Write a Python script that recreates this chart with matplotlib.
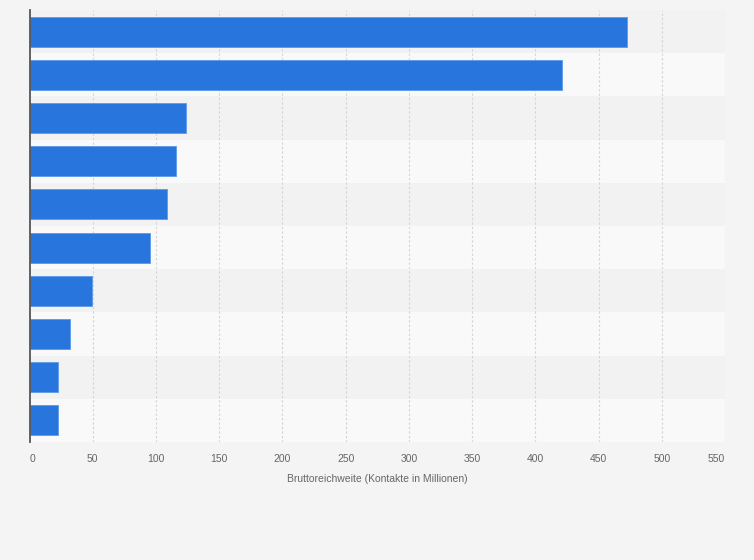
import matplotlib.pyplot as plt

# Bruttoreichweite in Millionen Kontakte, top to bottom
values = [472.5, 421, 124, 116, 109, 95.5, 49.5, 32, 22.5, 22.5]
ticks = [0, 50, 100, 150, 200, 250, 300, 350, 400, 450, 500, 550]

plt.rcParams['font.family'] = ['Liberation Sans', 'DejaVu Sans']

fig = plt.figure(figsize=(7.54, 5.6), dpi=100)
fig.patch.set_facecolor('#f4f4f4')
ax = fig.add_axes([29.5 / 754, 1 - 442 / 560, (725 - 29.5) / 754, 432 / 560])
ax.set_facecolor('#f4f4f4')

n = len(values)
pos = list(range(n))

# alternating row bands
for i in pos:
    ax.axhspan(i - 0.5, i + 0.5, color='#f2f2f2' if i % 2 == 0 else '#f9f9f9', zorder=0, lw=0)

for x in ticks[1:]:
    ax.axvline(x, color='#d4d4d4', lw=0.8, ls=(0, (2, 2)), zorder=1)

ax.barh(pos, values, height=0.69, color='#2876dd', edgecolor='#5b9be8', lw=0.6, zorder=2)

ax.set_xlim(0, 550)
ax.set_ylim(n - 0.5, -0.5)
ax.set_xticks(ticks)
ax.set_xticklabels([str(t) for t in ticks], fontsize=7.5, color='#666666')
labels = ax.get_xticklabels()
labels[0].set_ha('left')
labels[-1].set_ha('right')
ax.tick_params(axis='x', length=0, pad=9)
ax.set_yticks([])

for s in ['top', 'right', 'bottom']:
    ax.spines[s].set_visible(False)
ax.spines['left'].set_color('#555555')
ax.spines['left'].set_linewidth(1.3)

ax.set_xlabel('Bruttoreichweite (Kontakte in Millionen)', fontsize=7.5, color='#666666', labelpad=7)

fig.savefig('out.png', dpi=100, facecolor=fig.get_facecolor())
